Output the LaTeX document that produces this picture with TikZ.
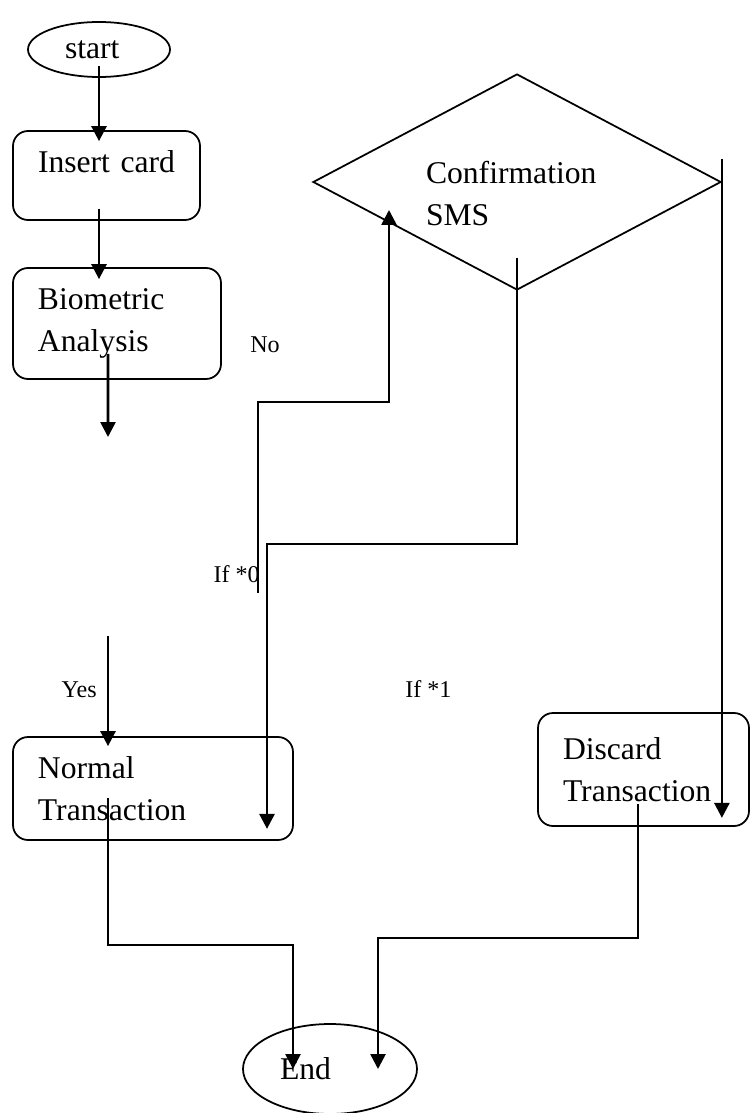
\documentclass[tikz,border=0pt]{standalone}
\usepackage{fontspec}
\setmainfont{Liberation Serif}
\usetikzlibrary{shapes.geometric,arrows.meta}

\tikzset{
  box/.style={draw, rectangle, rounded corners=0.3cm, line width=1pt, align=left, inner sep=0pt, font=\fontsize{18}{24}\selectfont},
  term/.style={draw, ellipse, line width=1pt, align=left, inner sep=0pt, font=\fontsize{18}{24}\selectfont},
  dec/.style={draw, diamond, shape aspect=1.9, line width=1pt, align=left, inner sep=0pt, font=\fontsize{18}{24}\selectfont},
  arr/.style={-{Triangle[width=8.5pt,length=8.5pt]}, line width=1.5pt},
  lbl/.style={inner sep=0pt, font=\fontsize{13.7}{16}\selectfont}
}

\begin{document}
\begin{tikzpicture}[x=0.2mm, y=-0.2mm]
        \useasboundingbox (0,0) rectangle (750,1113);

        % Start and end
        \node[term, minimum width=2.84cm, minimum height=1.1cm, text width=1.36cm] (start) at (99,49.5) {start};
        \node[term, minimum width=3.48cm, minimum height=1.8cm, text width=2cm] (end) at (330,1069) {End};

        % Steps
        \node[box, minimum width=3.74cm, minimum height=1.78cm, text width=2.74cm, text depth=0.54cm] (insert) at (106.5,175.5) {Insert~card};
        \node[box, minimum width=4.16cm, minimum height=2.22cm, text width=3.16cm] (bio) at (117,323.5) {Biometric\\Analysis};
        \node[box, minimum width=5.6cm, minimum height=2.06cm, text width=4.6cm] (normal) at (153,788.5) {Normal\\Transaction};
        \node[box, minimum width=4.22cm, minimum height=2.26cm, text width=3.22cm] (discard) at (643.5,769.5) {Discard\\Transaction};

        % Decision
        \node[dec, minimum width=8.16cm, minimum height=4.32cm, text width=3.64cm, text depth=0.38cm] (sms) at (517,182) {Confirmation\\SMS};

        % Labels
        \node[lbl, anchor=base west] (no) at (250,352) {No};
        \node[lbl, anchor=base east] (if0) at (260,582) {If *0};
        \node[lbl, anchor=base east] (yes) at (97,697) {Yes};
        \node[lbl, anchor=base west] (if1) at (405,697) {If *1};

        % Loose ends
        \coordinate (bioend) at (108,437);
        \coordinate (yesstart) at (108,636);
        \coordinate (nostart) at (258,593);

        % Arrows
        \draw[arr] ([yshift=0.24cm]start.south) -- ([yshift=-0.22cm]start.south |- insert.north);
        \draw[arr] ([yshift=0.24cm]insert.south -| start) -- ([yshift=-0.24cm]bio.north -| start);
        \draw[arr] ([xshift=-0.18cm,yshift=0.52cm]bio.south) -- (bioend);
        \draw[arr] (yesstart) -- ([yshift=-0.2cm]normal.north -| yesstart);
        \draw[arr] (nostart) -- ++(0,-191) -| ([xshift=-2.56cm,yshift=-0.56cm]sms.center);
        \draw[arr] ([yshift=0.66cm]sms.south) -- ++(0,286) -| ([xshift=2.28cm,yshift=0.24cm]normal.south);
        \draw[arr] ([yshift=0.46cm]sms.east) -- ([yshift=0.18cm]sms.east |- discard.south);
        \draw[arr] ([xshift=-0.9cm,yshift=0.86cm]normal.south) -- ++(0,147) -| ([xshift=-0.74cm]end.center);
        \draw[arr] ([xshift=-0.11cm,yshift=0.46cm]discard.south) -- ++(0,134) -| ([xshift=0.96cm]end.center);
    \end{tikzpicture}
\end{document}
